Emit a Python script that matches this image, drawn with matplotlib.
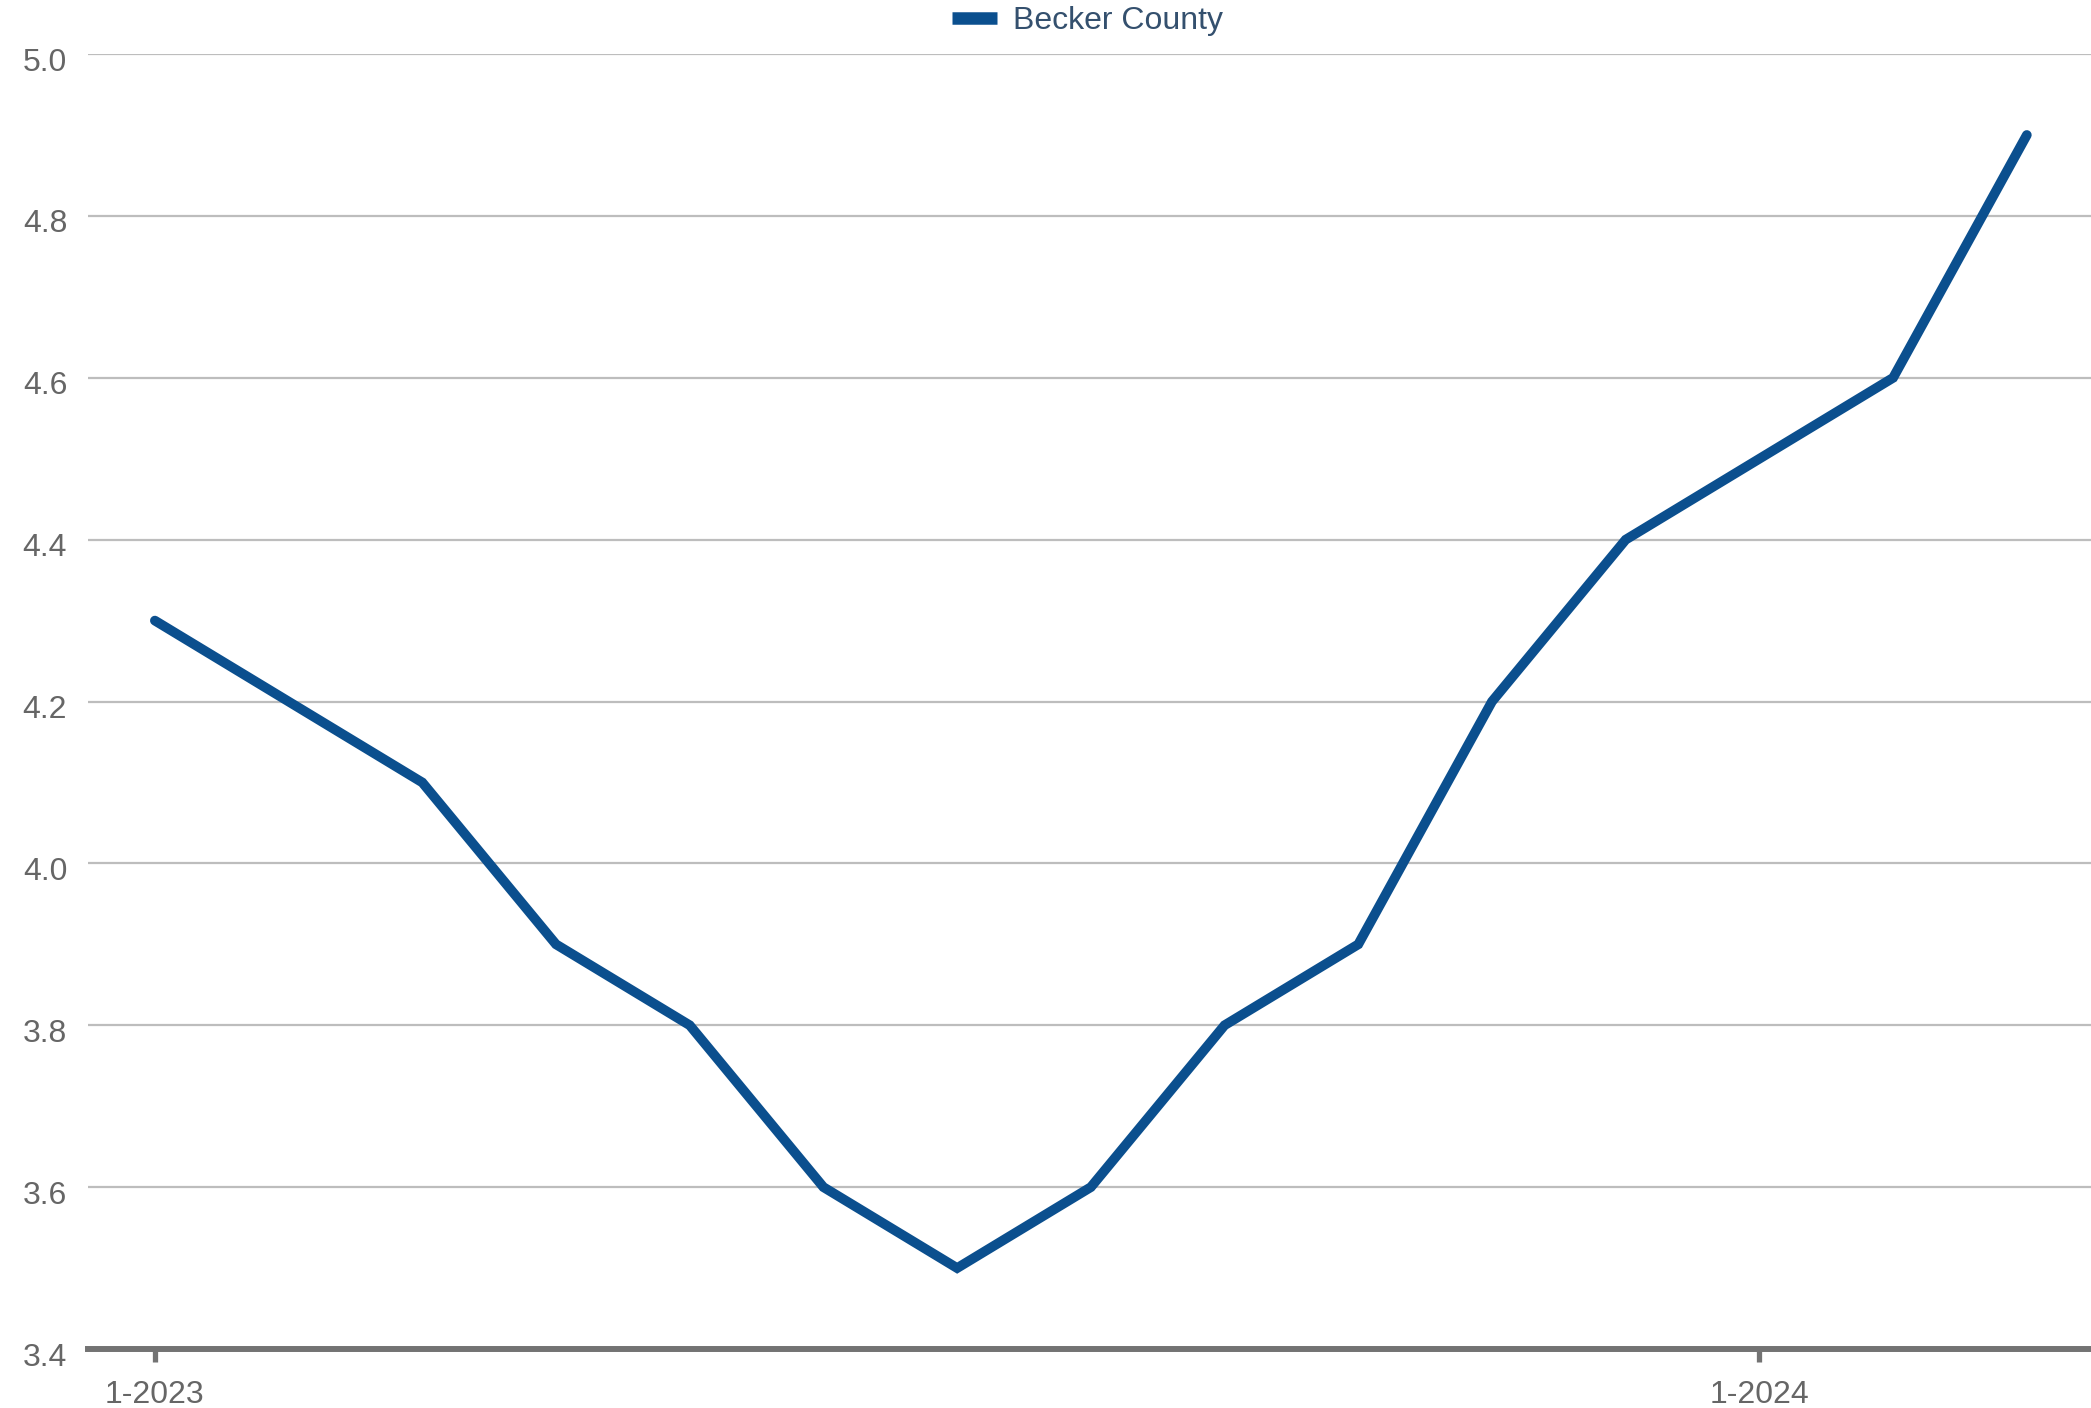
import matplotlib

matplotlib.use("Agg")
import matplotlib.pyplot as plt
import matplotlib.transforms as mtransforms

months = ["1-2023", "2-2023", "3-2023", "4-2023", "5-2023", "6-2023", "7-2023", "8-2023",
          "9-2023", "10-2023", "11-2023", "12-2023", "1-2024", "2-2024", "3-2024"]
becker = [4.3, 4.2, 4.1, 3.9, 3.8, 3.6, 3.5, 3.6, 3.8, 3.9, 4.2, 4.4, 4.5, 4.6, 4.9]
y_ticks = [3.4, 3.6, 3.8, 4.0, 4.2, 4.4, 4.6, 4.8, 5.0]
x_tick_labels = {0: "1-2023", 12: "1-2024"}

plt.rcParams["font.family"] = ["Liberation Sans", "DejaVu Sans"]

fig = plt.figure(figsize=(20.91, 14.08), dpi=100)
ax = fig.add_axes([0.0421, 0.0419, 0.9579, 0.9197])

x = list(range(len(months)))
ax.plot(x, becker, color="#0b4f8e", linewidth=7, solid_joinstyle="miter",
        solid_capstyle="round", label="Becker County", zorder=3)

ax.set_xlim(-0.5, 14.48)
ax.set_ylim(3.4, 5.0)
ax.set_yticks(y_ticks)
ax.set_yticklabels([f"{v:.1f}" for v in y_ticks])
ax.set_xticks(list(x_tick_labels.keys()))
ax.set_xticklabels(list(x_tick_labels.values()))

ax.grid(True, axis="y", color="#bdbdbd", linewidth=1.6)
ax.set_axisbelow(True)
for side in ["top", "right", "left"]:
    ax.spines[side].set_visible(False)
ax.spines["bottom"].set_color("#737373")
ax.spines["bottom"].set_linewidth(4.3)
ax.spines["bottom"].set_zorder(4)

ax.tick_params(axis="y", length=0, pad=15, labelsize=23, labelcolor="#666666")
ax.tick_params(axis="x", length=9, width=3.8, color="#737373", pad=13,
               labelsize=23, labelcolor="#666666")

# y labels sit slightly below their gridlines in the original
shift = mtransforms.ScaledTranslation(0, -5 / 100, fig.dpi_scale_trans)
for lbl in ax.get_yticklabels():
    lbl.set_transform(lbl.get_transform() + shift)

leg = fig.legend(loc="center", bbox_to_anchor=(0.52, 0.985), frameon=False,
                 fontsize=23, handlelength=1.4, handletextpad=0.5,
                 labelcolor="#34506e", borderpad=0)
leg.get_lines()[0].set_linewidth(9)
leg.get_lines()[0].set_solid_capstyle("butt")

fig.savefig("out.png", dpi=100)
plt.close(fig)
